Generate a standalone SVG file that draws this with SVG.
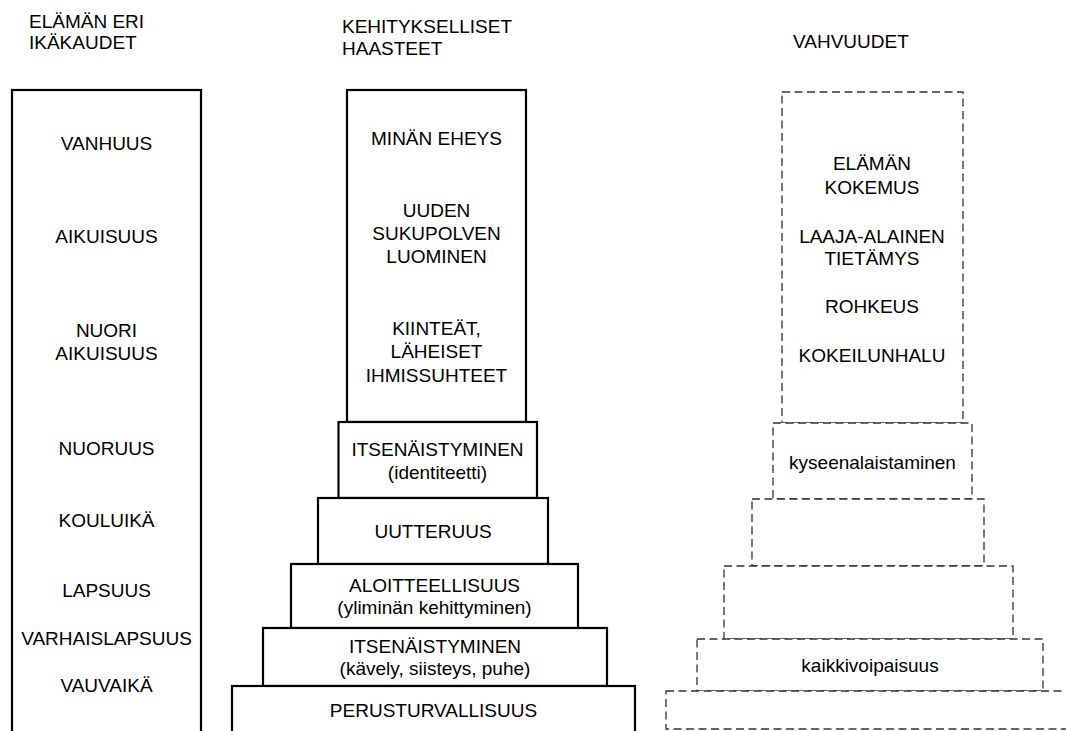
<svg xmlns="http://www.w3.org/2000/svg" width="1066" height="731" viewBox="0 0 1066 731">
  <style>
    text { font-family: "Liberation Sans", Arial, sans-serif; font-size: 19px; fill: #000; }
    .c { text-anchor: middle; }
    .solid { fill: #fff; stroke: #000; stroke-width: 2.2; }
    .dash { fill: #fff; stroke: #333; stroke-width: 1.3; stroke-dasharray: 8 4.5; }
  </style>
  <rect width="1066" height="731" fill="#fff"/>

  <!-- column headings -->
  <g id="heading-ages">
    <text x="29" y="28">ELÄMÄN ERI</text>
    <text x="29" y="49">IKÄKAUDET</text>
  </g>
  <g id="heading-challenges">
    <text x="342" y="33">KEHITYKSELLISET</text>
    <text x="342" y="55">HAASTEET</text>
  </g>
  <g id="heading-strengths">
    <text x="793" y="48">VAHVUUDET</text>
  </g>

  <!-- life stages column -->
  <g id="life-stages">
    <rect class="solid" x="12" y="90" width="189" height="660"/>
    <text class="c" x="106.5" y="150">VANHUUS</text>
    <text class="c" x="106.5" y="243">AIKUISUUS</text>
    <text class="c" x="106.5" y="337">NUORI</text>
    <text class="c" x="106.5" y="360">AIKUISUUS</text>
    <text class="c" x="106.5" y="455">NUORUUS</text>
    <text class="c" x="106.5" y="527">KOULUIKÄ</text>
    <text class="c" x="106.5" y="597">LAPSUUS</text>
    <text class="c" x="106.5" y="645">VARHAISLAPSUUS</text>
    <text class="c" x="106.5" y="692">VAUVAIKÄ</text>
  </g>

  <!-- developmental challenges stack -->
  <g id="ch-adult">
    <rect class="solid" x="347" y="90" width="179" height="332"/>
    <text class="c" x="436.5" y="145">MINÄN EHEYS</text>
    <text class="c" x="436.5" y="217">UUDEN</text>
    <text class="c" x="436.5" y="240">SUKUPOLVEN</text>
    <text class="c" x="436.5" y="263">LUOMINEN</text>
    <text class="c" x="436.5" y="335">KIINTEÄT,</text>
    <text class="c" x="436.5" y="358">LÄHEISET</text>
    <text class="c" x="436.5" y="382">IHMISSUHTEET</text>
  </g>
  <g id="ch-youth">
    <rect class="solid" x="338.5" y="422" width="198.5" height="76"/>
    <text class="c" x="437.5" y="456">ITSENÄISTYMINEN</text>
    <text class="c" x="437.5" y="479">(identiteetti)</text>
  </g>
  <g id="ch-school">
    <rect class="solid" x="318" y="498" width="230" height="66"/>
    <text class="c" x="433" y="538">UUTTERUUS</text>
  </g>
  <g id="ch-child">
    <rect class="solid" x="291" y="564" width="287" height="64"/>
    <text class="c" x="434.5" y="592">ALOITTEELLISUUS</text>
    <text class="c" x="434.5" y="614">(yliminän kehittyminen)</text>
  </g>
  <g id="ch-early">
    <rect class="solid" x="263" y="628" width="344" height="58"/>
    <text class="c" x="435" y="653">ITSENÄISTYMINEN</text>
    <text class="c" x="435" y="675">(kävely, siisteys, puhe)</text>
  </g>
  <g id="ch-infant">
    <rect class="solid" x="232" y="686" width="403" height="60"/>
    <text class="c" x="433.5" y="717">PERUSTURVALLISUUS</text>
  </g>

  <!-- strengths stack (dashed) -->
  <g id="st-adult">
    <rect class="dash" x="782" y="92" width="181" height="331"/>
    <text class="c" x="872" y="170">ELÄMÄN</text>
    <text class="c" x="872" y="194">KOKEMUS</text>
    <text class="c" x="872" y="243">LAAJA-ALAINEN</text>
    <text class="c" x="872" y="265">TIETÄMYS</text>
    <text class="c" x="872" y="313">ROHKEUS</text>
    <text class="c" x="872" y="362">KOKEILUNHALU</text>
  </g>
  <g id="st-youth">
    <rect class="dash" x="773" y="423" width="199" height="76"/>
    <text class="c" x="872.5" y="469">kyseenalaistaminen</text>
  </g>
  <g id="st-school">
    <rect class="dash" x="752" y="499" width="232" height="67"/>
  </g>
  <g id="st-child">
    <rect class="dash" x="724" y="566" width="289" height="73"/>
  </g>
  <g id="st-early">
    <rect class="dash" x="697" y="639" width="346" height="52"/>
    <text class="c" x="870" y="672">kaikkivoipaisuus</text>
  </g>
  <g id="st-infant">
    <rect class="dash" x="666" y="691" width="420" height="38"/>
  </g>

  <g id="connectors"></g>
</svg>
